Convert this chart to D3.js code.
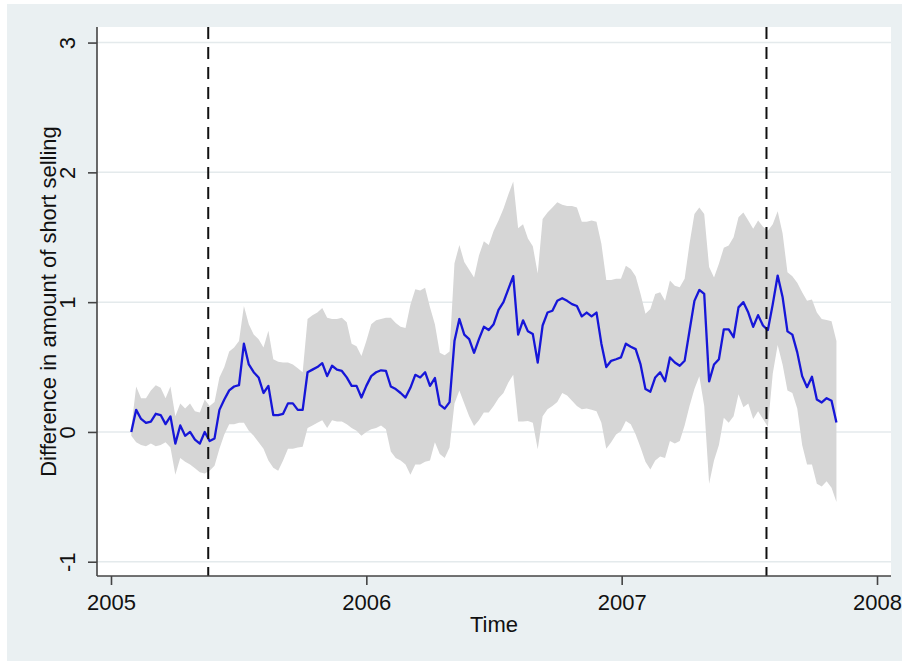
<!DOCTYPE html>
<html>
<head>
<meta charset="utf-8">
<script src="https://cdn.jsdelivr.net/npm/d3@7"></script>
<style>
  html, body { margin: 0; padding: 0; background: #ffffff; }
  svg { display: block; font-family: "Liberation Sans", Arial, sans-serif; }
</style>
</head>
<body>
<svg id="chart" width="902" height="662"></svg>
<script>
// Weekly observations, first week starting Sunday 30 Jan 2005
const firstWeek = new Date(2005, 0, 30);
const lastWeek = new Date(2007, 10, 4);

// Estimated difference in short selling (weekly)
const estimate = [
  0.00, 0.17, 0.10, 0.07, 0.08, 0.14, 0.13, 0.06, 0.12, -0.09,
  0.05, -0.03, 0.00, -0.06, -0.09, 0.00, -0.07, -0.05, 0.17, 0.25,
  0.32, 0.35, 0.36, 0.68, 0.52, 0.46, 0.42, 0.30, 0.355, 0.13,
  0.13, 0.14, 0.22, 0.22, 0.17, 0.17, 0.46, 0.48, 0.50, 0.53,
  0.43, 0.51, 0.48, 0.47, 0.42, 0.355, 0.355, 0.265, 0.355, 0.43,
  0.46, 0.475, 0.47, 0.35, 0.33, 0.30, 0.265, 0.34, 0.44, 0.42,
  0.46, 0.355, 0.415, 0.21, 0.18, 0.23, 0.70, 0.87, 0.75, 0.715,
  0.61, 0.715, 0.81, 0.785, 0.83, 0.94, 1.00, 1.10, 1.20, 0.75,
  0.86, 0.775, 0.754, 0.535, 0.82, 0.92, 0.934, 1.01, 1.03, 1.01,
  0.985, 0.97, 0.89, 0.92, 0.89, 0.92, 0.68, 0.50, 0.548, 0.56,
  0.574, 0.68, 0.656, 0.638, 0.52, 0.33, 0.31, 0.42, 0.46, 0.39,
  0.574, 0.535, 0.51, 0.548, 0.78, 1.01, 1.094, 1.063, 0.39, 0.52,
  0.56, 0.79, 0.79, 0.73, 0.96, 1.00, 0.92, 0.81, 0.90, 0.82,
  0.785, 0.985, 1.205, 1.04, 0.775, 0.75, 0.613, 0.43, 0.345, 0.425,
  0.25, 0.227, 0.26, 0.24, 0.072
];

// Upper bound of the confidence band
const upper = [
  0.03, 0.35, 0.26, 0.26, 0.32, 0.36, 0.34, 0.26, 0.35, 0.12,
  0.22, 0.18, 0.22, 0.16, 0.15, 0.25, 0.20, 0.23, 0.42, 0.50,
  0.62, 0.65, 0.70, 0.97, 0.83, 0.75, 0.715, 0.65, 0.78, 0.56,
  0.54, 0.535, 0.535, 0.52, 0.49, 0.46, 0.87, 0.90, 0.92, 0.955,
  0.88, 0.87, 0.87, 0.88, 0.845, 0.68, 0.66, 0.585, 0.70, 0.83,
  0.86, 0.87, 0.88, 0.88, 0.84, 0.81, 0.80, 0.98, 1.10, 1.09,
  1.11, 0.96, 0.83, 0.61, 0.59, 0.62, 1.30, 1.44, 1.31, 1.25,
  1.19, 1.36, 1.47, 1.44, 1.55, 1.63, 1.72, 1.83, 1.93, 1.57,
  1.60, 1.49, 1.43, 1.22, 1.64, 1.69, 1.73, 1.77, 1.75, 1.74,
  1.74, 1.73, 1.62, 1.62, 1.63, 1.62, 1.45, 1.17, 1.17, 1.18,
  1.18, 1.28, 1.256, 1.20, 1.063, 0.91, 0.947, 1.063, 1.076, 1.01,
  1.166, 1.127, 1.114, 1.18, 1.45, 1.68, 1.73, 1.68, 1.27, 1.19,
  1.295, 1.42, 1.436, 1.50, 1.655, 1.69, 1.63, 1.565, 1.63, 1.58,
  1.55, 1.60, 1.70, 1.53, 1.23, 1.20, 1.15, 1.076, 1.01, 1.02,
  0.92, 0.87, 0.862, 0.852, 0.70
];

// Lower bound of the confidence band
const lower = [
  -0.03, -0.08, -0.10, -0.11, -0.09, -0.11, -0.10, -0.08, -0.12, -0.33,
  -0.20, -0.23, -0.25, -0.28, -0.31, -0.32, -0.30, -0.26, -0.13, -0.02,
  0.06, 0.06, 0.07, 0.07, 0.01, -0.03, -0.08, -0.13, -0.22, -0.275,
  -0.30, -0.22, -0.13, -0.13, -0.12, -0.115, 0.03, 0.05, 0.07, 0.09,
  0.03, 0.09, 0.08, 0.08, 0.06, 0.03, 0.01, -0.03, 0.00, 0.02,
  0.03, 0.05, 0.02, -0.15, -0.20, -0.22, -0.25, -0.33, -0.25, -0.25,
  -0.23, -0.22, -0.08, -0.17, -0.20, -0.12, 0.22, 0.32, 0.22, 0.12,
  0.046, 0.09, 0.15, 0.15, 0.20, 0.26, 0.30, 0.38, 0.44, 0.08,
  0.08, 0.085, 0.07, -0.134, 0.12, 0.175, 0.20, 0.23, 0.30, 0.28,
  0.24, 0.20, 0.175, 0.18, 0.17, 0.16, 0.07, -0.13, -0.08, -0.02,
  0.008, 0.085, 0.06, -0.02, -0.12, -0.23, -0.29, -0.22, -0.19, -0.20,
  -0.07, -0.09, -0.07, 0.05, 0.20, 0.33, 0.43, 0.20, -0.40, -0.22,
  -0.10, 0.11, 0.07, 0.12, 0.29, 0.19, 0.22, 0.10, 0.16, 0.10,
  0.04, 0.45, 0.67, 0.52, 0.32, 0.30, 0.18, -0.10, -0.25, -0.25,
  -0.40, -0.42, -0.38, -0.43, -0.54
];

// Event dates marked with dashed vertical lines
const eventDates = ["2005-05-20", "2007-07-27"];

// Axis ticks
const yTicks = [-1, 0, 1, 2, 3];
const xTickYears = [2005, 2006, 2007, 2008];

const yLabel = "Difference in amount of short selling";
const xLabel = "Time";

// ---- layout ----
const W = 902, H = 662;
const plot = { left: 97, right: 891, top: 27, bottom: 576 };
const FONT = 22;

const svg = d3.select("#chart");

// outer panel
svg.append("rect")
  .attr("x", 7).attr("y", 4).attr("width", W - 7).attr("height", 657)
  .attr("fill", "#eaf0f2");

// plot region
svg.append("rect")
  .attr("x", plot.left).attr("y", plot.top)
  .attr("width", plot.right - plot.left).attr("height", plot.bottom - plot.top)
  .attr("fill", "#ffffff");

const weeks = d3.timeWeek.range(firstWeek, d3.timeDay.offset(lastWeek, 1));
const data = estimate.map((v, i) => ({ date: weeks[i], est: v, lo: lower[i], hi: upper[i] }));

const x = d3.scaleTime()
  .domain([new Date(2004, 11, 12), new Date(2008, 0, 21)])
  .range([plot.left, plot.right]);

const y = d3.scaleLinear()
  .domain([-1.11, 3.12])
  .range([plot.bottom, plot.top]);

// horizontal grid
svg.append("g")
  .selectAll("line")
  .data(yTicks)
  .join("line")
  .attr("x1", plot.left).attr("x2", plot.right)
  .attr("y1", d => y(d)).attr("y2", d => y(d))
  .attr("stroke", "#e4eaec")
  .attr("stroke-width", 1.5);

// confidence band
svg.append("path")
  .datum(data)
  .attr("fill", "#d6d6d6")
  .attr("d", d3.area()
    .x(d => x(d.date))
    .y0(d => y(d.lo))
    .y1(d => y(d.hi)));

// estimate line
svg.append("path")
  .datum(data)
  .attr("fill", "none")
  .attr("stroke", "#1616d8")
  .attr("stroke-width", 2.3)
  .attr("stroke-linejoin", "round")
  .attr("d", d3.line()
    .x(d => x(d.date))
    .y(d => y(d.est)));

// dashed event lines
const parseDate = d3.timeParse("%Y-%m-%d");
svg.append("g")
  .selectAll("line")
  .data(eventDates.map(parseDate))
  .join("line")
  .attr("x1", d => x(d)).attr("x2", d => x(d))
  .attr("y1", plot.top).attr("y2", plot.bottom)
  .attr("stroke", "#111111")
  .attr("stroke-width", 2)
  .attr("stroke-dasharray", "12,8");

// y axis
const yAxis = d3.axisLeft(y)
  .tickValues(yTicks)
  .tickSize(9)
  .tickPadding(13)
  .tickFormat(d => String(d));

const gy = svg.append("g")
  .attr("transform", `translate(${plot.left},0)`)
  .call(yAxis);
gy.select(".domain").remove();
gy.append("line")
  .attr("x1", 0).attr("x2", 0)
  .attr("y1", plot.top).attr("y2", plot.bottom)
  .attr("stroke", "#444444").attr("stroke-width", 1.6);
gy.selectAll(".tick line").attr("stroke", "#444444").attr("stroke-width", 1.6);
gy.selectAll(".tick text")
  .attr("font-size", FONT)
  .attr("font-family", "Liberation Sans, Arial, sans-serif")
  .attr("fill", "#111111")
  .attr("x", null).attr("dy", null)
  .attr("text-anchor", "middle")
  .attr("transform", "translate(-22,0) rotate(-90)");

// x axis
const xAxis = d3.axisBottom(x)
  .tickValues(xTickYears.map(yr => new Date(yr, 0, 1)))
  .tickSize(9)
  .tickPadding(9)
  .tickFormat(d3.timeFormat("%Y"));

const gx = svg.append("g")
  .attr("transform", `translate(0,${plot.bottom})`)
  .call(xAxis);
gx.select(".domain").remove();
gx.append("line")
  .attr("x1", plot.left).attr("x2", plot.right)
  .attr("y1", 0).attr("y2", 0)
  .attr("stroke", "#444444").attr("stroke-width", 1.6);
gx.selectAll(".tick line").attr("stroke", "#444444").attr("stroke-width", 1.6);
gx.selectAll(".tick text")
  .attr("font-size", FONT)
  .attr("font-family", "Liberation Sans, Arial, sans-serif")
  .attr("fill", "#111111");

// axis titles
svg.append("text")
  .attr("transform", `translate(56,${(plot.top + plot.bottom) / 2}) rotate(-90)`)
  .attr("text-anchor", "middle")
  .attr("font-size", FONT)
  .attr("fill", "#111111")
  .text(yLabel);

svg.append("text")
  .attr("x", (plot.left + plot.right) / 2)
  .attr("y", 632)
  .attr("text-anchor", "middle")
  .attr("font-size", FONT)
  .attr("fill", "#111111")
  .text(xLabel);
</script>
</body>
</html>
